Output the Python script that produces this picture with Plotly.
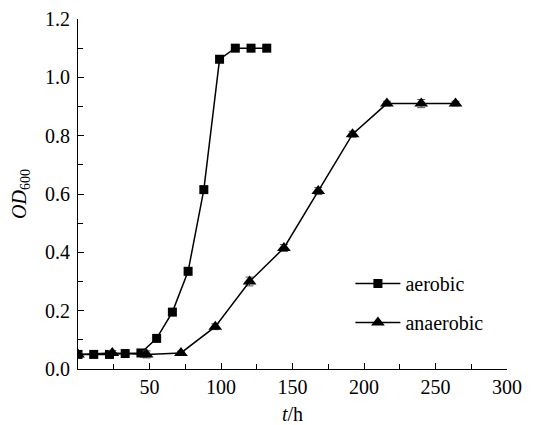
import plotly.graph_objects as go

aer_t = [0, 11, 22, 33, 44, 55, 66, 77, 88, 99, 110, 121, 132]
aer_od = [0.050, 0.050, 0.050, 0.053, 0.055, 0.105, 0.195, 0.335, 0.615, 1.062, 1.100, 1.100, 1.100]
aer_err = [0.005, 0.004, 0.004, 0.004, 0.005, 0.006, 0.008, 0.012, 0.010, 0.010, 0.006, 0.006, 0.006]

ana_t = [0, 24, 48, 72, 96, 120, 144, 168, 192, 216, 240, 264]
ana_od = [0.050, 0.055, 0.050, 0.055, 0.145, 0.300, 0.415, 0.610, 0.805, 0.910, 0.910, 0.910]
ana_err = [0.005, 0.008, 0.012, 0.006, 0.010, 0.015, 0.012, 0.012, 0.010, 0.008, 0.014, 0.008]

x_ticks = [50, 100, 150, 200, 250, 300]

font = "Times New Roman, Liberation Serif, serif"

fig = go.Figure()
fig.add_trace(go.Scatter(
    x=aer_t, y=aer_od, name="aerobic", mode="lines+markers",
    line=dict(color="black", width=1.5),
    marker=dict(symbol="square", size=9, color="black"),
    error_y=dict(type="data", array=aer_err, color="#555", thickness=1, width=4),
    legendgroup="a",
))
fig.add_trace(go.Scatter(
    x=ana_t, y=ana_od, name="anaerobic", mode="lines+markers",
    line=dict(color="black", width=1.5),
    marker=dict(symbol="triangle-up", size=12, color="black"),
    error_y=dict(type="data", array=ana_err, color="#555", thickness=1, width=4),
    legendgroup="b",
))

fig.update_layout(
    width=537, height=417,
    margin=dict(l=70, r=38, t=11, b=56, autoexpand=False),
    paper_bgcolor="white", plot_bgcolor="white",
    font=dict(family=font, size=20, color="black"),
    showlegend=True,
    legend=dict(x=0.635, y=0.30, xanchor="left", yanchor="top",
                bgcolor="rgba(0,0,0,0)", font=dict(size=20),
                tracegroupgap=10, itemwidth=45),
    xaxis=dict(range=[0, 300], tickvals=x_ticks, ticks="inside", ticklen=6,
               showline=True, linecolor="black", linewidth=1.2, showgrid=False,
               zeroline=False, tickcolor="black", automargin=False,
               minor=dict(dtick=25, tick0=0, ticks="inside", ticklen=5, tickcolor="black"),
               title=dict(text="<i>t</i>/h", standoff=14, font=dict(size=20))),
    yaxis=dict(range=[0, 1.2], dtick=0.2, tickformat=".1f", ticks="inside", ticklen=6,
               showline=True, linecolor="black", linewidth=1.2, showgrid=False,
               zeroline=False, tickcolor="black", automargin=False, ticklabelstandoff=3,
               minor=dict(dtick=0.1, ticks="inside", ticklen=5, tickcolor="black"),
               title=dict(text="<i>OD</i><sub>600</sub>", standoff=20, font=dict(size=20))),
)

fig.write_html("out.html")
